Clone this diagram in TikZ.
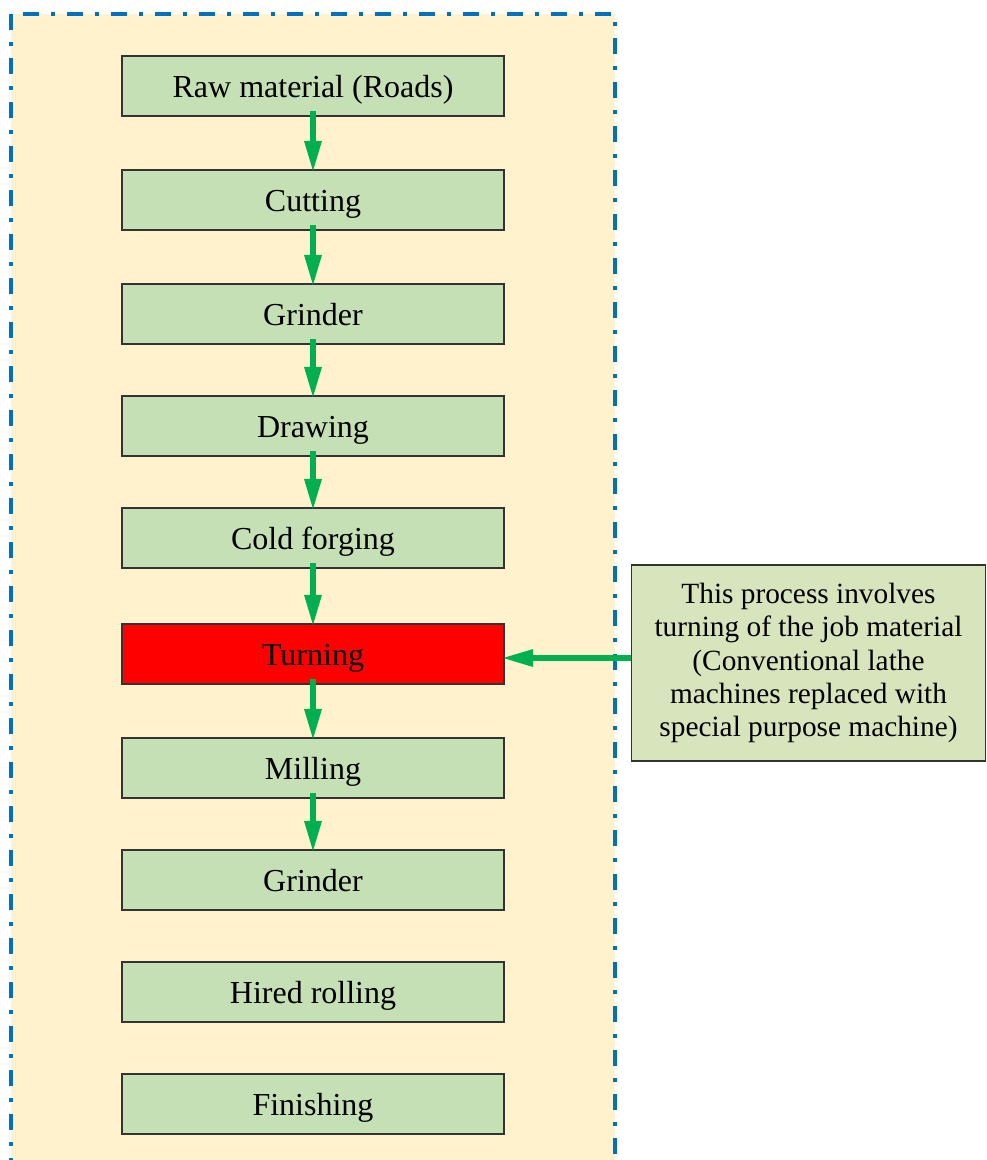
\documentclass[tikz,border=0pt]{standalone}
\usepackage{fontspec}
\setmainfont{Liberation Serif}
\usetikzlibrary{arrows.meta}
\definecolor{bgfill}{HTML}{FFF2CC}
\definecolor{frameblue}{HTML}{0070C0}
\definecolor{boxgreen}{HTML}{C5E0B4}
\definecolor{notegreen}{HTML}{D8E4BC}
\definecolor{arrgreen}{HTML}{00B050}
\definecolor{edgegray}{HTML}{333333}
\tikzset{
  stepbox/.style={draw=edgegray, line width=1.1pt, fill=boxgreen, minimum width=286.5pt, minimum height=45pt, inner sep=0pt, text height=16.5pt, text depth=0pt, font=\fontsize{24}{28}\selectfont},
  hotbox/.style={stepbox, fill=red},
  notebox/.style={draw=edgegray, line width=0.9pt, fill=notegreen, minimum width=266pt, minimum height=147pt, inner sep=0pt, align=center, font=\fontsize{22}{25}\selectfont},
  flowarr/.style={draw=arrgreen, line width=4.5pt, -{Triangle[length=22.5pt,width=13.5pt,line width=0pt]}},
  dashframe/.style={draw=frameblue, fill=bgfill, line width=3.2pt, dash pattern=on 12pt off 9pt on 3pt off 9pt}
}
\begin{document}
\begin{tikzpicture}[x=0.75pt,y=-0.75pt]
\useasboundingbox (0,0) rectangle (987,1160);
\clip (0,0) rectangle (987,1160);
\draw[dashframe] (11,14) rectangle (615,1250);
\node[stepbox] (b1) at (313,86) {Raw material (Roads)};
\node[stepbox] (b2) at (313,200) {Cutting};
\node[stepbox] (b3) at (313,314) {Grinder};
\node[stepbox] (b4) at (313,426) {Drawing};
\node[stepbox] (b5) at (313,538) {Cold forging};
\node[hotbox] (b6) at (313,654) {Turning};
\node[stepbox] (b7) at (313,768) {Milling};
\node[stepbox] (b8) at (313,880) {Grinder};
\node[stepbox] (b9) at (313,992) {Hired rolling};
\node[stepbox] (b10) at (313,1104) {Finishing};
\node[notebox] (note) at (808.5,663) {This process involves\\turning of the job material\\(Conventional lathe\\machines replaced with\\special purpose machine)};
\foreach \a/\b in {b1/b2,b2/b3,b3/b4,b4/b5,b5/b6,b6/b7,b7/b8}
  \draw[flowarr] ([yshift=4pt]\a.south) -- ([yshift=-1.2pt]\b.north);
\draw[flowarr] ([yshift=3.75pt]note.west) -- ([yshift=3.75pt,xshift=-1.2pt]note.west -| b6.east);
\end{tikzpicture}
\end{document}
